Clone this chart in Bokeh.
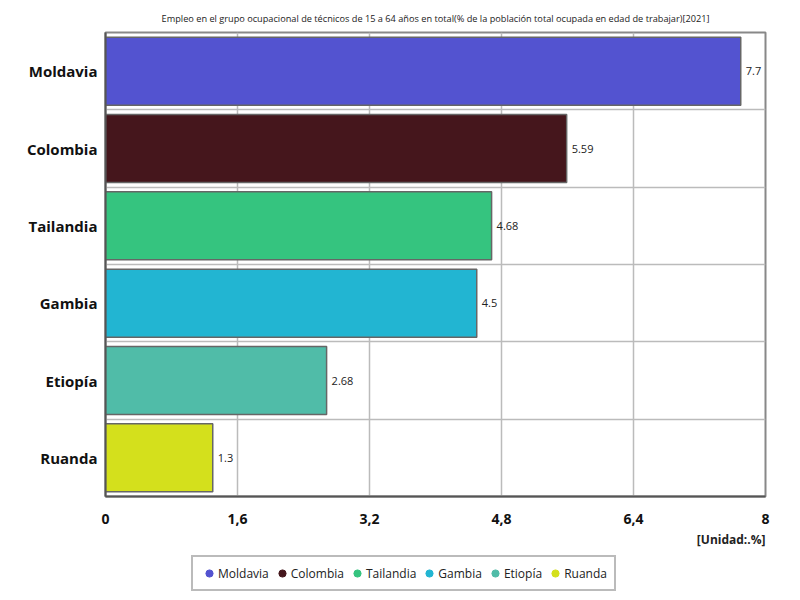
from bokeh.core.properties import value
from bokeh.embed import file_html
from bokeh.layouts import column
from bokeh.models import ColumnDataSource, FixedTicker, Legend, LegendItem, Range1d, Title
from bokeh.plotting import figure
from bokeh.resources import INLINE

# data (top to bottom)
countries = ["Moldavia", "Colombia", "Tailandia", "Gambia", "Etiopía", "Ruanda"]
values = [7.7, 5.59, 4.68, 4.5, 2.68, 1.3]
colors = ["#5353d0", "#45161c", "#35c47f", "#22b5d2", "#50bca8", "#d4e01c"]
x_ticks = [0, 1.6, 3.2, 4.8, 6.4, 8]
x_tick_labels = ["0", "1,6", "3,2", "4,8", "6,4", "8"]

title_str = "Empleo en el grupo ocupacional de técnicos de 15 a 64 años en total(% de la población total ocupada en edad de trabajar)[2021]"
FONT = "Open Sans"

n = len(countries)
ypos = [n - 1 - i + 0.5 for i in range(n)]

src = ColumnDataSource(dict(
    y=ypos,
    val=values,
    color=colors,
    name=countries,
    label=[str(v) for v in values],
    nanx=[float("nan")] * n,
))

p = figure(width=800, height=550,
           x_range=Range1d(0, 8), y_range=Range1d(0, n),
           output_backend="svg", toolbar_location=None,
           min_border_left=105, min_border_right=35, min_border_top=32, min_border_bottom=54)

p.title.text = title_str
p.title.align = "center"
p.title.text_font = FONT
p.title.text_font_size = "9.2px"
p.title.text_font_style = "normal"
p.title.text_color = "#222222"
p.title.standoff = 16

p.hbar(y="y", left=0, right="val", height=0.88, source=src,
       fill_color="color", line_color="#666666", line_width=1.5)

p.text(x="val", y="y", text="label", source=src, x_offset=5,
       text_baseline="middle", text_align="left",
       text_font=value(FONT), text_font_size="11px", text_color="#222222")

# axes
p.xaxis.ticker = FixedTicker(ticks=x_ticks)
p.xaxis.major_label_overrides = {t: l for t, l in zip(x_ticks, x_tick_labels)}
p.yaxis.ticker = FixedTicker(ticks=ypos)
p.yaxis.major_label_overrides = {y: c for y, c in zip(ypos, countries)}

for ax in (p.xaxis, p.yaxis):
    ax.major_tick_in = 0
    ax.major_tick_out = 0
    ax.minor_tick_in = 0
    ax.minor_tick_out = 0
    ax.axis_line_color = "#555555"
    ax.axis_line_width = 2
    ax.major_label_text_font = FONT
    ax.major_label_text_font_style = "bold"
    ax.major_label_text_color = "#111111"
p.xaxis.major_label_text_font_size = "14px"
p.yaxis.major_label_text_font_size = "15px"
p.xaxis.major_label_standoff = 17
p.yaxis.major_label_standoff = 8

# grid: vertical at ticks, horizontal at band boundaries
p.xgrid.ticker = FixedTicker(ticks=x_ticks[1:-1])
p.xgrid.grid_line_color = "#bbbbbb"
p.xgrid.grid_line_width = 1.5
p.ygrid.ticker = FixedTicker(ticks=list(range(1, n)))
p.ygrid.grid_line_color = "#bbbbbb"
p.ygrid.grid_line_width = 1.5

p.outline_line_color = "#888888"
p.outline_line_width = 2

unit = Title(text="[Unidad:.%]", align="right", text_font=FONT, text_font_size="12px",
             text_font_style="bold", text_color="#222222", standoff=5)
p.add_layout(unit, "below")

# legend lives in its own small figure below the chart (its frame is aligned with the chart's)
lf = figure(width=800, height=46, x_range=Range1d(0, 1), y_range=Range1d(0, 1),
            output_backend="svg", toolbar_location=None,
            x_axis_location=None, y_axis_location=None, min_border=0)
lf.grid.visible = False
lf.outline_line_color = None
dots = lf.scatter(x="nanx", y="y", source=src, size=8, marker="circle",
                  fill_color="color", line_color="color")

items = [LegendItem(label=c, renderers=[dots], index=i) for i, c in enumerate(countries)]
legend = Legend(items=items, orientation="horizontal", location=(86, 5),
                label_text_font=FONT, label_text_font_size="12px", label_text_color="#222222",
                glyph_width=18, glyph_height=18, label_standoff=0, spacing=4,
                border_line_color="#777777", border_line_width=2,
                padding=7, margin=0)
lf.add_layout(legend)

open("out.html", "w").write(file_html(column(p, lf), INLINE))
